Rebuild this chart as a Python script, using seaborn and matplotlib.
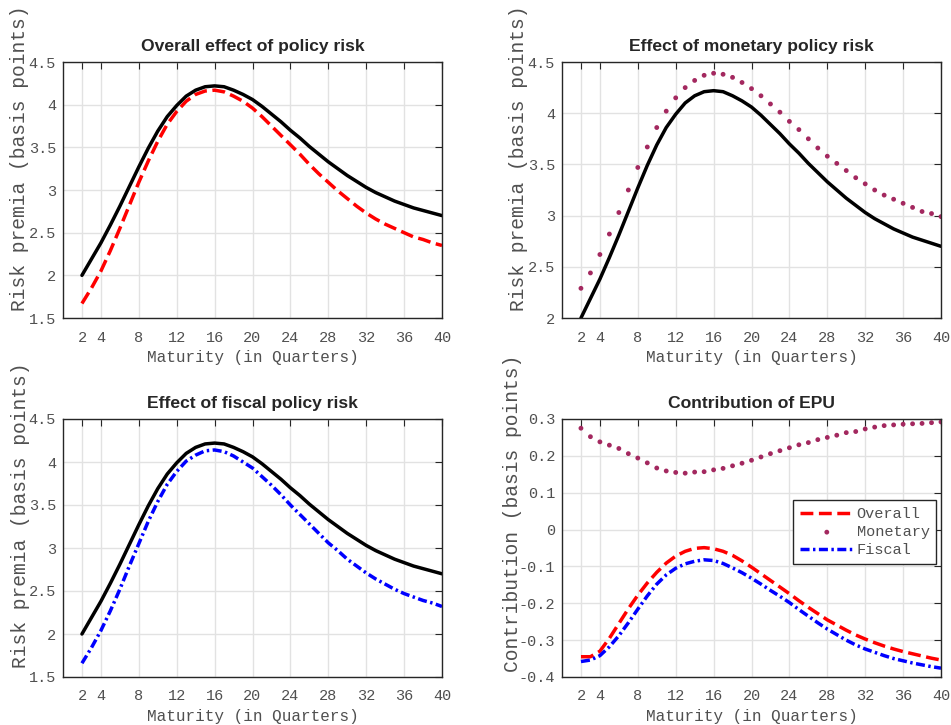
import numpy as np
import pandas as pd
import matplotlib
matplotlib.use("Agg")
import matplotlib.pyplot as plt
from matplotlib.ticker import FuncFormatter
import seaborn as sns

# ---------------- data ----------------
maturity = list(range(2, 41))

total = [2.00, 2.19, 2.38, 2.59, 2.81, 3.04, 3.27, 3.49, 3.69, 3.86,
         3.99, 4.10, 4.17, 4.21, 4.22, 4.21, 4.17, 4.12, 4.06, 3.98,
         3.89, 3.80, 3.70, 3.61, 3.51, 3.42, 3.33, 3.25, 3.17, 3.10,
         3.03, 2.97, 2.92, 2.87, 2.83, 2.79, 2.76, 2.73, 2.70]

overall = [1.67, 1.85, 2.05, 2.29, 2.55, 2.82, 3.09, 3.34, 3.57, 3.77,
           3.92, 4.04, 4.12, 4.16, 4.17, 4.15, 4.10, 4.04, 3.96, 3.86,
           3.75, 3.64, 3.53, 3.42, 3.30, 3.19, 3.09, 2.99, 2.90, 2.81,
           2.73, 2.66, 2.60, 2.55, 2.50, 2.45, 2.42, 2.38, 2.35]

monetary = [2.29, 2.44, 2.62, 2.82, 3.03, 3.25, 3.47, 3.67, 3.86, 4.02,
            4.15, 4.25, 4.32, 4.37, 4.39, 4.38, 4.35, 4.30, 4.24, 4.17,
            4.09, 4.01, 3.92, 3.84, 3.75, 3.66, 3.58, 3.51, 3.44, 3.37,
            3.31, 3.25, 3.20, 3.16, 3.12, 3.08, 3.04, 3.02, 2.99]

fiscal = [1.66, 1.84, 2.04, 2.27, 2.52, 2.79, 3.05, 3.31, 3.54, 3.74,
          3.89, 4.01, 4.08, 4.13, 4.14, 4.12, 4.07, 4.00, 3.93, 3.83,
          3.73, 3.62, 3.50, 3.39, 3.28, 3.17, 3.06, 2.97, 2.87, 2.79,
          2.71, 2.64, 2.58, 2.52, 2.47, 2.43, 2.39, 2.36, 2.32]

contrib_overall = [-0.345, -0.345, -0.330, -0.295, -0.255, -0.215, -0.178, -0.145, -0.116, -0.091,
                   -0.072, -0.059, -0.051, -0.049, -0.052, -0.059, -0.070, -0.085, -0.102, -0.120,
                   -0.138, -0.156, -0.174, -0.193, -0.211, -0.228, -0.245, -0.259, -0.273, -0.286,
                   -0.297, -0.307, -0.316, -0.324, -0.331, -0.337, -0.343, -0.349, -0.354]

contrib_monetary = [0.275, 0.252, 0.238, 0.229, 0.220, 0.206, 0.194, 0.181, 0.167, 0.159,
                    0.155, 0.153, 0.156, 0.157, 0.162, 0.166, 0.173, 0.180, 0.188, 0.197,
                    0.206, 0.214, 0.222, 0.230, 0.236, 0.244, 0.250, 0.256, 0.263, 0.266,
                    0.273, 0.278, 0.282, 0.284, 0.286, 0.287, 0.288, 0.290, 0.292]

contrib_fiscal = [-0.358, -0.354, -0.342, -0.318, -0.288, -0.253, -0.216, -0.180, -0.148, -0.123,
                  -0.105, -0.093, -0.086, -0.082, -0.084, -0.092, -0.104, -0.117, -0.132, -0.148,
                  -0.165, -0.181, -0.198, -0.217, -0.235, -0.253, -0.270, -0.285, -0.300, -0.313,
                  -0.324, -0.333, -0.342, -0.350, -0.356, -0.362, -0.367, -0.372, -0.376]

xticks = [2, 4, 8, 12, 16, 20, 24, 28, 32, 36, 40]
titles = ["Overall effect of policy risk", "Effect of monetary policy risk",
          "Effect of fiscal policy risk", "Contribution of EPU"]
xlabel = "Maturity (in Quarters)"
ylabel_rp = "Risk premia (basis points)"
ylabel_c = "Contribution (basis points)"
legend_labels = ["Overall", "Monetary", "Fiscal"]

# ---------------- style ----------------
sns.set_style("whitegrid")
plt.rcParams["font.family"] = ["Liberation Mono", "DejaVu Sans"]

RED = "#FF0000"
BLUE = "#0000FF"
DOT = "#A3285F"
LW = 2.5
DASHDOT = (0, (2.6, 1.0, 0.7, 1.0))
TXT = "#505050"

fig = plt.figure(figsize=(9.51, 7.25), dpi=100)
W = 379 / 951
positions = [
    [63 / 951, 1 - 318 / 725, W, 256 / 725],
    [562 / 951, 1 - 318 / 725, W, 256 / 725],
    [63 / 951, 1 - 677 / 725, W, 258 / 725],
    [562 / 951, 1 - 677 / 725, W, 258 / 725],
]
axes = [fig.add_axes(p) for p in positions]

df = pd.DataFrame({
    "q": maturity, "total": total, "overall": overall, "monetary": monetary,
    "fiscal": fiscal, "c_over": contrib_overall, "c_mon": contrib_monetary,
    "c_fis": contrib_fiscal,
})

# panel 1
ax = axes[0]
sns.lineplot(data=df, x="q", y="overall", ax=ax, color=RED, lw=LW, linestyle="--")
sns.lineplot(data=df, x="q", y="total", ax=ax, color="black", lw=LW)
# panel 2
ax = axes[1]
sns.scatterplot(data=df, x="q", y="monetary", ax=ax, color=DOT, s=12, edgecolor="none")
sns.lineplot(data=df, x="q", y="total", ax=ax, color="black", lw=LW)
# panel 3
ax = axes[2]
sns.lineplot(data=df, x="q", y="fiscal", ax=ax, color=BLUE, lw=LW, linestyle=DASHDOT)
sns.lineplot(data=df, x="q", y="total", ax=ax, color="black", lw=LW)
# panel 4
ax = axes[3]
sns.lineplot(data=df, x="q", y="c_over", ax=ax, color=RED, lw=LW, linestyle="--",
             label=legend_labels[0])
sns.scatterplot(data=df, x="q", y="c_mon", ax=ax, color=DOT, s=12, edgecolor="none",
                label=legend_labels[1])
sns.lineplot(data=df, x="q", y="c_fis", ax=ax, color=BLUE, lw=LW, linestyle=DASHDOT,
             label=legend_labels[2])

ylims = [(1.5, 4.5), (2.0, 4.5), (1.5, 4.5), (-0.4, 0.3)]
yticks = [np.arange(1.5, 4.51, 0.5), np.arange(2.0, 4.51, 0.5),
          np.arange(1.5, 4.51, 0.5), np.round(np.arange(-0.4, 0.31, 0.1), 1)]
ylabels = [ylabel_rp, ylabel_rp, ylabel_rp, ylabel_c]
ylab_pos = [(-0.09, 0.625), (-0.09, 0.625), (-0.088, 0.628), (-0.106, 0.634)]


def _fmt(v, p):
    v = round(v, 2)
    if abs(v) < 1e-9:
        v = 0.0
    return "%g" % v


fmt = FuncFormatter(_fmt)

for i, ax in enumerate(axes):
    ax.set_xlim(0, 40)
    ax.set_ylim(*ylims[i])
    ax.set_xticks(xticks)
    ax.set_yticks(yticks[i])
    ax.yaxis.set_major_formatter(fmt)
    ax.grid(True, color="#E2E2E2", lw=1.0)
    ax.set_axisbelow(True)
    for s in ax.spines.values():
        s.set_visible(True)
        s.set_color("#262626")
        s.set_linewidth(1.0)
    ax.tick_params(direction="in", length=5, width=0.8, color="#262626",
                   top=True, right=True, labelsize=11, labelcolor=TXT, pad=5)
    ax.tick_params(axis="x", pad=9)
    ax.set_title(titles[i], fontsize=12.6, fontweight="bold",
                 family=["Liberation Sans"], pad=8)
    ax.set_xlabel(xlabel, fontsize=11.5, color=TXT, labelpad=4)
    ax.set_ylabel(ylabels[i], fontsize=14.1, color=TXT)
    ax.yaxis.set_label_coords(*ylab_pos[i])

leg = axes[3].legend(loc="upper left", bbox_to_anchor=(0.61, 0.686), fontsize=11,
                     frameon=True, fancybox=False, edgecolor="#262626",
                     handlelength=3.5, handletextpad=0.2, borderpad=0.45,
                     labelspacing=0.28, borderaxespad=0, markerscale=1.0)
leg.get_frame().set_linewidth(1.0)
leg.get_frame().set_alpha(1)
for t in leg.get_texts():
    t.set_color(TXT)

fig.savefig("out.png", dpi=100)
